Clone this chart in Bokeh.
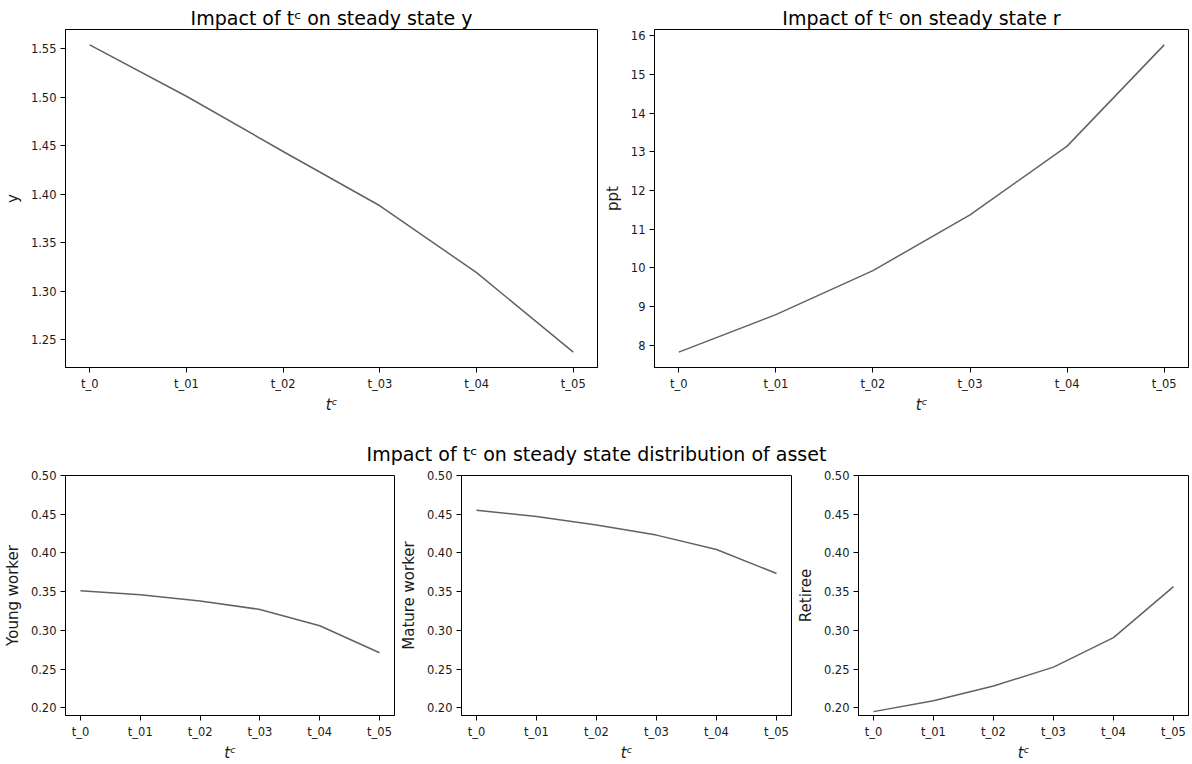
from bokeh.plotting import figure
from bokeh.layouts import column, row
from bokeh.models import Range1d, FixedTicker, NumeralTickFormatter
from bokeh.embed import file_html
from bokeh.resources import INLINE
from bokeh.core.properties import value

# ---------------- data ----------------
tax_labels = ["t_0", "t_01", "t_02", "t_03", "t_04", "t_05"]
output_y = [1.554, 1.501, 1.444, 1.388, 1.319, 1.237]
interest_r = [7.82, 8.79, 9.93, 11.37, 13.15, 15.77]
young_worker = [0.351, 0.346, 0.338, 0.327, 0.306, 0.271]
mature_worker = [0.455, 0.447, 0.436, 0.423, 0.4045, 0.3735]
retiree = [0.195, 0.209, 0.228, 0.2525, 0.2905, 0.3565]

y_ticks_top_left = [1.25, 1.30, 1.35, 1.40, 1.45, 1.50, 1.55]
y_ticks_top_right = [8, 9, 10, 11, 12, 13, 14, 15, 16]
y_ticks_bottom = [0.20, 0.25, 0.30, 0.35, 0.40, 0.45, 0.50]

FONT = "DejaVu Sans"
LINE_COLOR = "#5a6664"
TC = "t\u1d9c"

xs = list(range(len(tax_labels)))


def auto_range(vals, margin=0.05):
    lo, hi = min(vals), max(vals)
    d = (hi - lo) * margin
    return Range1d(lo - d, hi + d)


def make_fig(w, h, bl, br, bt, bb, y_range, yticks, ylabel, yfmt, title=None):
    p = figure(width=w, height=h, x_range=Range1d(-0.25, len(xs) - 0.75),
               y_range=y_range, output_backend="svg", toolbar_location=None,
               min_border_left=bl, min_border_right=br, min_border_top=bt,
               min_border_bottom=bb, background_fill_color="white",
               border_fill_color="white")
    p.xgrid.visible = False
    p.ygrid.visible = False
    p.outline_line_color = "black"
    p.outline_line_width = 1
    p.outline_line_alpha = 1
    for ax in (p.xaxis[0], p.yaxis[0]):
        ax.axis_line_color = "black"
        ax.major_tick_line_color = "black"
        ax.major_tick_in = 0
        ax.major_tick_out = 5
        ax.minor_tick_line_color = None
        ax.major_label_text_font = FONT
        ax.major_label_text_font_size = "11.5px"
        ax.major_label_text_color = "#1a1a1a"
        ax.major_label_standoff = 4
        ax.axis_label_text_font = FONT
        ax.axis_label_text_font_size = "15px"
        ax.axis_label_text_color = "#1a1a1a"
        ax.axis_label_standoff = 6
    p.xaxis.ticker = FixedTicker(ticks=xs)
    p.xaxis.major_label_overrides = {i: lab for i, lab in zip(xs, tax_labels)}
    p.xaxis.axis_label = TC
    p.xaxis.axis_label_text_font_style = "italic"
    p.xaxis.axis_label_standoff = 2
    p.yaxis.ticker = FixedTicker(ticks=yticks)
    p.yaxis.formatter = NumeralTickFormatter(format=yfmt)
    p.yaxis.axis_label = ylabel
    p.yaxis.axis_label_text_font_style = "normal"
    if title:
        p.title.text = title
        p.title.align = "center"
        p.title.text_font = FONT
        p.title.text_font_size = "19px"
        p.title.text_font_style = "normal"
        p.title.text_color = "black"
        try:
            p.title.standoff = 2
        except Exception:
            pass
    return p


p1 = make_fig(600, 425, 64, 3, 29, 58, auto_range(output_y), y_ticks_top_left,
              "y", "0.00", "Impact of " + TC + " on steady state y")
p1.line(xs, output_y, line_color=LINE_COLOR, line_width=1.5)

p2 = make_fig(592, 425, 54, 4, 29, 58, auto_range(interest_r), y_ticks_top_right,
              "ppt", "0", "Impact of " + TC + " on steady state r")
p2.line(xs, interest_r, line_color=LINE_COLOR, line_width=1.5)

# super title band
ps = figure(width=1192, height=40, x_range=Range1d(0, 1), y_range=Range1d(0, 1),
            output_backend="svg", toolbar_location=None, min_border=0,
            x_axis_location=None, y_axis_location=None,
            background_fill_color="white", border_fill_color="white")
ps.outline_line_color = None
ps.xgrid.visible = False
ps.ygrid.visible = False
ps.text(x=[0.5], y=[0.28],
        text=["Impact of " + TC + " on steady state distribution of asset"],
        text_align="center", text_baseline="middle",
        text_font=value(FONT), text_font_size="19px", text_color="black")

bottom_range = (0.19, 0.50)
p3 = make_fig(395, 299, 64, 1, 10, 45, Range1d(*bottom_range), y_ticks_bottom,
              "Young worker", "0.00")
p3.line(xs, young_worker, line_color=LINE_COLOR, line_width=1.5)

p4 = make_fig(397, 299, 66, 1, 10, 45, Range1d(*bottom_range), y_ticks_bottom,
              "Mature worker", "0.00")
p4.line(xs, mature_worker, line_color=LINE_COLOR, line_width=1.5)

p5 = make_fig(400, 299, 66, 4, 10, 45, Range1d(*bottom_range), y_ticks_bottom,
              "Retiree", "0.00")
p5.line(xs, retiree, line_color=LINE_COLOR, line_width=1.5)

layout = column(row(p1, p2), ps, row(p3, p4, p5))

open("out.html", "w").write(file_html(layout, INLINE))
